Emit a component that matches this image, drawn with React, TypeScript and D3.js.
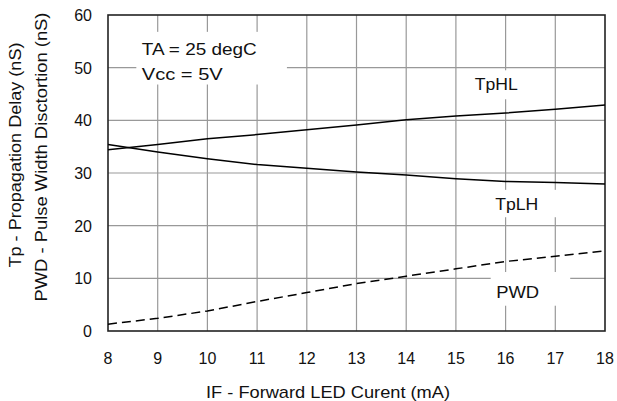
import React, { useEffect, useRef } from 'react';
import * as d3 from 'd3';

const current = [8, 9, 10, 11, 12, 13, 14, 15, 16, 17, 18];
const tpHL = [34.4, 35.4, 36.5, 37.3, 38.2, 39.1, 40.1, 40.8, 41.4, 42.1, 42.9];
const tpLH = [35.4, 34.0, 32.7, 31.6, 30.9, 30.2, 29.6, 28.9, 28.4, 28.2, 27.9];
const pwd = [1.3, 2.4, 3.8, 5.6, 7.3, 9.0, 10.4, 11.8, 13.2, 14.2, 15.2];
const xTicks = [8, 9, 10, 11, 12, 13, 14, 15, 16, 17, 18];
const yTicks = [0, 10, 20, 30, 40, 50, 60];

const FONT = "'Liberation Sans', Arial, sans-serif";

const App = () => {
  const ref = useRef<SVGSVGElement>(null);

  useEffect(() => {
    const svg = d3.select(ref.current);
    svg.selectAll("*").remove();

    const width = 617, height = 401;
    const left = 108, right = 605, top = 15, bottom = 331;

    svg.attr("width", width).attr("height", height);

    const x = d3.scaleLinear().domain([8, 18]).range([left, right]);
    const y = d3.scaleLinear().domain([0, 60]).range([bottom, top]);

    svg.append("rect")
      .attr("width", width).attr("height", height).attr("fill", "#fff");

    // grid
    const grid = svg.append("g").attr("stroke", "#999").attr("stroke-width", 1.2);
    xTicks.slice(1, -1).forEach(t => {
      grid.append("line")
        .attr("x1", x(t)).attr("x2", x(t))
        .attr("y1", top).attr("y2", bottom);
    });
    yTicks.slice(1, -1).forEach(t => {
      grid.append("line")
        .attr("x1", left).attr("x2", right)
        .attr("y1", y(t)).attr("y2", y(t));
    });

    // white boxes behind annotations
    const boxes = [
      { x0: 8.57, x1: 11.6, y0: 46.8, y1: 56.8 },
      { x0: 15.2, x1: 16.4, y0: 44.0, y1: 49.5 },
      { x0: 15.15, x1: 17.1, y0: 21.6, y1: 26.8 },
      { x0: 15.7, x1: 17.3, y0: 4.8, y1: 11.2 },
    ];
    boxes.forEach(b => {
      svg.append("rect")
        .attr("x", x(b.x0)).attr("y", y(b.y1))
        .attr("width", x(b.x1) - x(b.x0))
        .attr("height", y(b.y0) - y(b.y1))
        .attr("fill", "#fff");
    });

    // frame
    svg.append("rect")
      .attr("x", left).attr("y", top)
      .attr("width", right - left).attr("height", bottom - top)
      .attr("fill", "none")
      .attr("stroke", "#222")
      .attr("stroke-width", 1.6);

    const line = d3.line<number>()
      .x((d, i) => x(current[i]))
      .y(d => y(d));

    [tpHL, tpLH].forEach(s => {
      svg.append("path")
        .datum(s)
        .attr("d", line)
        .attr("fill", "none")
        .attr("stroke", "#000")
        .attr("stroke-width", 1.5);
    });

    svg.append("path")
      .datum(pwd)
      .attr("d", line)
      .attr("fill", "none")
      .attr("stroke", "#000")
      .attr("stroke-width", 1.5)
      .attr("stroke-dasharray", "9,5");

    // tick labels
    const text = (tx: number, ty: number, s: string, anchor = "start", size = 16) =>
      svg.append("text")
        .attr("x", tx).attr("y", ty)
        .attr("text-anchor", anchor)
        .attr("font-family", FONT)
        .attr("font-size", size)
        .attr("fill", "#111")
        .text(s);

    yTicks.forEach(t => {
      text(92, y(t) + 6, String(t), "end");
    });
    xTicks.forEach(t => {
      text(x(t), 364, String(t), "middle");
    });

    text(328, 398, "IF - Forward LED Curent (mA)", "middle", 17)
      .attr("textLength", 244).attr("lengthAdjust", "spacingAndGlyphs");

    svg.append("text")
      .attr("transform", "translate(21,155) rotate(-90)")
      .attr("text-anchor", "middle")
      .attr("font-family", FONT)
      .attr("font-size", 17)
      .attr("fill", "#111")
      .attr("textLength", 225).attr("lengthAdjust", "spacingAndGlyphs")
      .text("Tp - Propagation Delay (nS)");
    svg.append("text")
      .attr("transform", "translate(47,157) rotate(-90)")
      .attr("text-anchor", "middle")
      .attr("font-family", FONT)
      .attr("font-size", 17)
      .attr("fill", "#111")
      .attr("textLength", 289).attr("lengthAdjust", "spacingAndGlyphs")
      .text("PWD - Pulse Width Disctortion (nS)");

    // annotations
    text(x(8.68), y(52.4), "TA = 25 degC", "start", 17)
      .attr("textLength", 115).attr("lengthAdjust", "spacingAndGlyphs");
    text(x(8.68), y(47.6), "Vcc = 5V", "start", 17)
      .attr("textLength", 81).attr("lengthAdjust", "spacingAndGlyphs");
    text(x(15.38), y(45.8), "TpHL", "start", 17)
      .attr("textLength", 43).attr("lengthAdjust", "spacingAndGlyphs");
    text(x(15.79), y(23.0), "TpLH", "start", 17)
      .attr("textLength", 43).attr("lengthAdjust", "spacingAndGlyphs");
    text(x(15.81), y(6.3), "PWD", "start", 17)
      .attr("textLength", 43).attr("lengthAdjust", "spacingAndGlyphs");
  }, []);

  return <svg ref={ref} style={{ position: 'absolute', left: 0, top: 0 }}></svg>;
};

export default App;
